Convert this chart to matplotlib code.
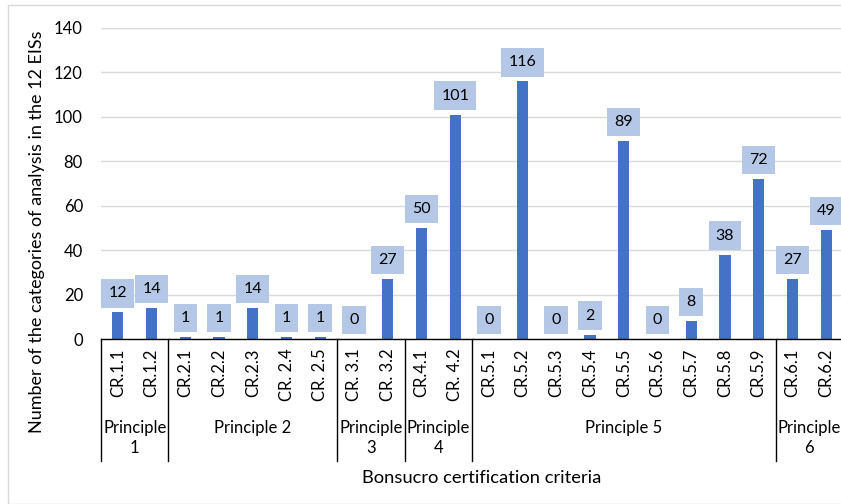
import matplotlib
matplotlib.use("Agg")
import matplotlib.pyplot as plt
import matplotlib.transforms as mtransforms
from matplotlib.patches import Rectangle

plt.rcParams['font.family'] = ['Lato', 'DejaVu Sans']

# Criteria, counts and principle groupings
criteria = ["CR.1.1", "CR.1.2", "CR.2.1", "CR.2.2", "CR.2.3", "CR. 2.4", "CR. 2.5",
            "CR. 3.1", "CR. 3.2", "CR.4.1", "CR. 4.2", "CR.5.1", "CR.5.2", "CR.5.3",
            "CR.5.4", "CR.5.5", "CR.5.6", "CR.5.7", "CR.5.8", "CR.5.9", "CR.6.1", "CR.6.2"]
counts = [12, 14, 1, 1, 14, 1, 1, 0, 27, 50, 101, 0, 116, 0, 2, 89, 0, 8, 38, 72, 27, 49]
group_labels = ["Principle\n1", "Principle 2", "Principle\n3", "Principle\n4",
                "Principle 5", "Principle\n6"]
group_sizes = [2, 5, 2, 2, 9, 2]

y_ticks = [0, 20, 40, 60, 80, 100, 120, 140]

W, H = 841, 504
fig = plt.figure(figsize=(W / 100, H / 100), dpi=100)

# chart-area border
fig.patches.append(Rectangle((8 / W, 0), 1.0, 1 - 5 / H, transform=fig.transFigure,
                             fill=False, ec='#D9D9D9', lw=1.0, zorder=0))

ax_left, ax_right = 101, 843
ax_bottom, ax_top = 339, 28
ax = fig.add_axes([ax_left / W, (H - ax_bottom) / H,
                   (ax_right - ax_left) / W, (ax_bottom - ax_top) / H])

FS = 12
n = len(criteria)
xs = list(range(n))
ax.bar(xs, counts, width=0.33, color='#4472C4', zorder=2)

for x, v in zip(xs, counts):
    ax.annotate(str(v), (x, v), xytext=(0, 12), textcoords='offset pixels',
                ha='center', va='bottom', fontsize=11.5, color='#000000',
                bbox=dict(boxstyle='square,pad=0.45', fc='#B4C7E7', ec='none'),
                zorder=3)

ax.set_xlim(-0.5, n - 0.5)
ax.set_ylim(0, 140)
ax.set_yticks(y_ticks)
ax.tick_params(axis='y', length=0, pad=13, labelsize=FS, labelcolor='#000000')
ax.yaxis.grid(True, color='#D9D9D9', lw=1.0)
ax.set_axisbelow(True)

ax.set_xticks(xs)
ax.set_xticklabels(criteria, rotation=90, fontsize=FS, color='#000000')
ax.tick_params(axis='x', length=0, pad=7)

for s in ['top', 'right', 'left']:
    ax.spines[s].set_visible(False)
ax.spines['bottom'].set_color('#000000')
ax.spines['bottom'].set_linewidth(1.0)

# principle separators and group labels below the category axis
trans = mtransforms.blended_transform_factory(ax.transData, ax.transAxes)
axh = ax_bottom - ax_top
sep_bottom = -(461 - ax_bottom) / axh
bounds = [-0.5]
for g in group_sizes:
    bounds.append(bounds[-1] + g)
for b in bounds:
    ax.plot([b, b], [0, sep_bottom], transform=trans, color='#000000', lw=1.0,
            clip_on=False)

label_y = -(420 - ax_bottom) / axh
for i, lab in enumerate(group_labels):
    mid = (bounds[i] + bounds[i + 1]) / 2
    ax.text(mid, label_y, lab, transform=trans, ha='center', va='top',
            fontsize=FS, color='#000000', linespacing=1.3, multialignment='center')

fig.text(482 / W, 1 - 478 / H, "Bonsucro certification criteria", ha='center',
         va='center', fontsize=13.2, color='#000000')
fig.text(37 / W, 1 - 232 / H, "Number of the categories of analysis in the 12 EISs",
         ha='center', va='center', rotation=90, fontsize=13, color='#000000')

fig.savefig("out.png", dpi=100)
